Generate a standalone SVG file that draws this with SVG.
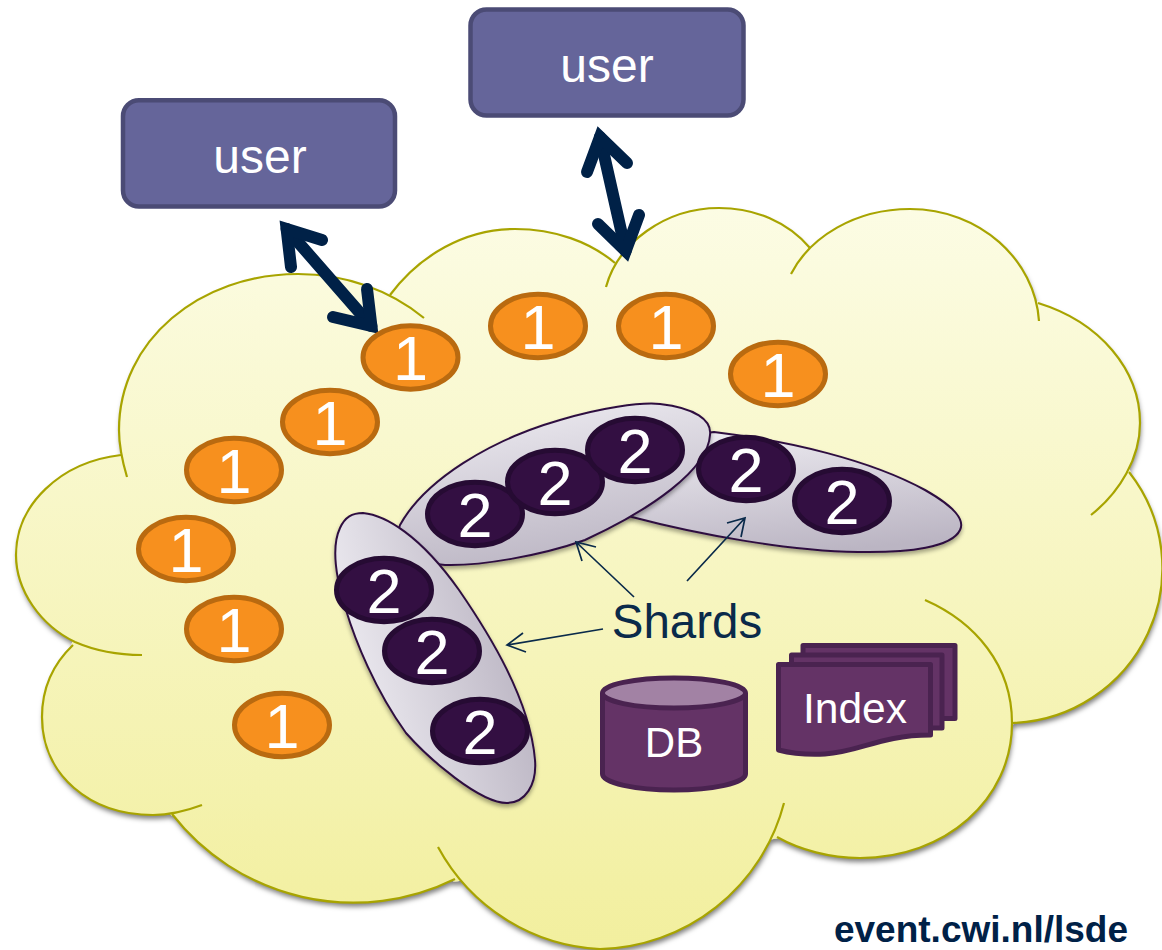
<svg xmlns="http://www.w3.org/2000/svg" width="1162" height="950" viewBox="0 0 1162 950">
<style>
text{font-family:"Liberation Sans",Arial,sans-serif;text-anchor:middle}
.lf{fill:url(#cg);stroke:none}
.lobe{fill:none;stroke:#A8A400;stroke-width:2.2}
.box{fill:#65659A;stroke:#4B4B75;stroke-width:4.5}
.boxt{fill:#fff;font-size:48px}
.one{fill:#F7901E;stroke:#B96A10;stroke-width:5}
.two{fill:#330F42;stroke:#260B33;stroke-width:5}
.num{fill:#fff;font-size:63px}
.shard{stroke:#2E1040;stroke-width:2;filter:url(#sh2)}
.big{fill:none;stroke:#002147;stroke-width:12;stroke-linecap:round;stroke-linejoin:miter}
.thin{fill:none;stroke:#0A2A4A;stroke-width:1.7}
.doc{fill:#643366;stroke:#4A2350;stroke-width:5;stroke-linejoin:round}
</style>
<defs>
<linearGradient id="cg" gradientUnits="userSpaceOnUse" x1="0" y1="208" x2="0" y2="950"><stop offset="0" stop-color="#FCFCE4"/><stop offset="1" stop-color="#F2EF9E"/></linearGradient>
<linearGradient id="sg" x1="0.3" y1="0" x2="0.6" y2="1"><stop offset="0" stop-color="#ECEAF0"/><stop offset="1" stop-color="#BBB5C3"/></linearGradient>
<linearGradient id="sg3" x1="0.1" y1="0.65" x2="0.9" y2="0.35"><stop offset="0" stop-color="#ECEAF0"/><stop offset="1" stop-color="#BBB5C3"/></linearGradient>
<filter id="sh" filterUnits="userSpaceOnUse" x="0" y="190" width="1200" height="780"><feDropShadow dx="1" dy="4" stdDeviation="2.5" flood-color="#000" flood-opacity="0.5"/></filter>
<filter id="sh2" x="-10%" y="-10%" width="120%" height="125%"><feDropShadow dx="0" dy="3" stdDeviation="2" flood-color="#000" flood-opacity="0.35"/></filter>
<path id="la" d="M127,477 Q119,450 119,430 C119,340 200,274 298,274 C345,274 390,290 424,318"/>
<path id="lb" d="M390,295 C420,255 465,229 515,229 C555,229 590,242 615,263"/>
<path id="lc" d="M606,287 C618,243 665,208 719,208 C755,208 788,222 810,248"/>
<path id="ld" d="M791,274 C810,237 855,209 910,209 C980,209 1035,260 1039,321"/>
<path id="le" d="M1038,303 C1100,322 1140,370 1140,423 C1140,458 1120,492 1091,515"/>
<path id="lf" d="M1129,472 A155,155 0 0 1 1012,723"/>
<path id="lk" d="M925,600 C975,622 1012,665 1012,723 C1012,800 945,858 860,858 C830,858 800,850 777,837"/>
<path id="lj" d="M438,847 A195,195 0 0 0 600,949 A195,195 0 0 0 784,803"/>
<path id="li" d="M172,814 A230,230 0 0 0 455,879"/>
<path id="lh" d="M73,645 C52,665 42,690 42,717 C42,775 90,815 153,815 C170,815 186,811 202,805"/>
<path id="lg" d="M121,455 C60,462 16,505 16,555 C16,590 40,625 75,642 Q105,655 142,655"/>
</defs>
<g id="cloud">
<g filter="url(#sh)">
<path fill="url(#cg)" stroke="url(#cg)" stroke-width="3" stroke-linejoin="round" d="M121,455 L390,295 L615,263 L810,248 L1038,303 L1129,472 L1012,723 L777,837 L455,880 L172,814 L73,645 Z"/>
<use href="#la" class="lf"/><use href="#lb" class="lf"/><use href="#lc" class="lf"/><use href="#ld" class="lf"/><use href="#le" class="lf"/><use href="#lf" class="lf"/><use href="#lk" class="lf"/><use href="#lj" class="lf"/><use href="#li" class="lf"/><use href="#lh" class="lf"/><use href="#lg" class="lf"/>
</g>
<use href="#la" class="lobe"/><use href="#lb" class="lobe"/><use href="#lc" class="lobe"/><use href="#ld" class="lobe"/><use href="#le" class="lobe"/><use href="#lf" class="lobe"/><use href="#lk" class="lobe"/><use href="#lj" class="lobe"/><use href="#li" class="lobe"/><use href="#lh" class="lobe"/><use href="#lg" class="lobe"/>
</g>
<g id="connectors">
<path class="big" d="M286.6,229 L371.4,326"/>
<path class="big" d="M322,240 L286.6,229 L291,267"/>
<path class="big" d="M333,317 L371.4,326 L367,289"/>
<path class="big" d="M600,137 L625.7,251"/>
<path class="big" d="M587,172 L600,137 L627,163"/>
<path class="big" d="M598,224 L625.7,251 L639,215"/>
</g>
<g id="user1"><rect class="box" x="123" y="100.2" width="272" height="106.4" rx="16"/><text class="boxt" x="260" y="173">user</text></g>
<g id="user2"><rect class="box" x="470.5" y="9.5" width="273" height="106" rx="16"/><text class="boxt" x="607" y="82">user</text></g>
<g id="shard-b"><path class="shard" fill="url(#sg)" d="M714,432 C790,441 870,460 925,490 C955,507 965,520 960,530 C952,547 910,553 858,552 C790,551 700,535 632,517 C600,505 620,440 714,432 Z"/></g>
<g id="shard-a"><path class="shard" fill="url(#sg)" d="M400,525 C425,480 490,440 560,420 C600,408 640,402 660,404 C695,408 712,420 710,435 C708,470 650,510 585,540 C540,556 480,566 445,565 C410,562 390,550 400,525 Z"/></g>
<g id="shard-c"><path class="shard" fill="url(#sg3)" d="M363,513 C385,515 420,535 459,590 C490,635 530,700 535,760 C537,785 525,803 507,803 C480,803 430,760 406,733 C375,690 355,640 346,610 C335,575 332,545 340,528 C345,517 352,513 363,513 Z"/></g>
<g id="n1a"><ellipse class="one" cx="410.5" cy="357.5" rx="47.5" ry="31.7"/><text class="num" x="410.5" y="380">1</text></g>
<g id="n1b"><ellipse class="one" cx="538" cy="326" rx="47.5" ry="31.7"/><text class="num" x="538" y="348.5">1</text></g>
<g id="n1c"><ellipse class="one" cx="666" cy="326" rx="47.5" ry="31.7"/><text class="num" x="666" y="348.5">1</text></g>
<g id="n1d"><ellipse class="one" cx="778" cy="374" rx="47.5" ry="31.7"/><text class="num" x="778" y="396.5">1</text></g>
<g id="n1e"><ellipse class="one" cx="330" cy="422" rx="47.5" ry="31.7"/><text class="num" x="330" y="444.5">1</text></g>
<g id="n1f"><ellipse class="one" cx="234" cy="470" rx="47.5" ry="31.7"/><text class="num" x="234" y="492.5">1</text></g>
<g id="n1g"><ellipse class="one" cx="186" cy="549" rx="47.5" ry="31.7"/><text class="num" x="186" y="571.5">1</text></g>
<g id="n1h"><ellipse class="one" cx="234" cy="629" rx="47.5" ry="31.7"/><text class="num" x="234" y="651.5">1</text></g>
<g id="n1i"><ellipse class="one" cx="282" cy="725" rx="47.5" ry="31.7"/><text class="num" x="282" y="747.5">1</text></g>
<g id="n2a"><ellipse class="two" cx="475" cy="514" rx="47.5" ry="31.7"/><text class="num" x="475" y="537">2</text></g>
<g id="n2b"><ellipse class="two" cx="555" cy="482" rx="47.5" ry="31.7"/><text class="num" x="555" y="505">2</text></g>
<g id="n2c"><ellipse class="two" cx="635" cy="450" rx="47.5" ry="31.7"/><text class="num" x="635" y="473">2</text></g>
<g id="n2d"><ellipse class="two" cx="746" cy="469" rx="47.5" ry="31.7"/><text class="num" x="746" y="492">2</text></g>
<g id="n2e"><ellipse class="two" cx="842" cy="501" rx="47.5" ry="31.7"/><text class="num" x="842" y="524">2</text></g>
<g id="n2f"><ellipse class="two" cx="384" cy="590" rx="47.5" ry="31.7"/><text class="num" x="384" y="613">2</text></g>
<g id="n2g"><ellipse class="two" cx="432" cy="651" rx="47.5" ry="31.7"/><text class="num" x="432" y="674">2</text></g>
<g id="n2h"><ellipse class="two" cx="480" cy="731" rx="47.5" ry="31.7"/><text class="num" x="480" y="754">2</text></g>
<g id="shard-arrows">
<path class="thin" d="M634,597 L576,542 M596,547 L576,542 L582,561"/>
<path class="thin" d="M687,581 L745,518 M727,523 L745,518 L741,537"/>
<path class="thin" d="M603,629 L507,645 M523,633 L507,645 L526,652"/>
</g>
<g id="shards-label"><text x="687" y="638" font-size="47.5" fill="#0A2A4A">Shards</text></g>
<g id="db">
<path class="doc" d="M602.5,693 V774 C602.5,783 635,790 674,790 C713,790 745.5,783 745.5,774 V693"/>
<ellipse cx="674" cy="693" rx="71.5" ry="15" fill="#A282A4" stroke="#4A2350" stroke-width="5"/>
<text x="674" y="757" font-size="42" fill="#fff">DB</text>
</g>
<g id="index">
<rect class="doc" x="803" y="645.5" width="152" height="73"/>
<rect class="doc" x="791.5" y="655" width="150.5" height="73"/>
<path class="doc" d="M778.5,664.5 H930.5 V735 C880,735 860,752 825,754 C805,755 790,753 778.5,750 Z"/>
<text x="855" y="723" font-size="42.5" fill="#fff">Index</text>
</g>
<g id="footer"><text x="981" y="942" font-size="37" font-weight="bold" fill="#002147">event.cwi.nl/lsde</text></g>
</svg>
